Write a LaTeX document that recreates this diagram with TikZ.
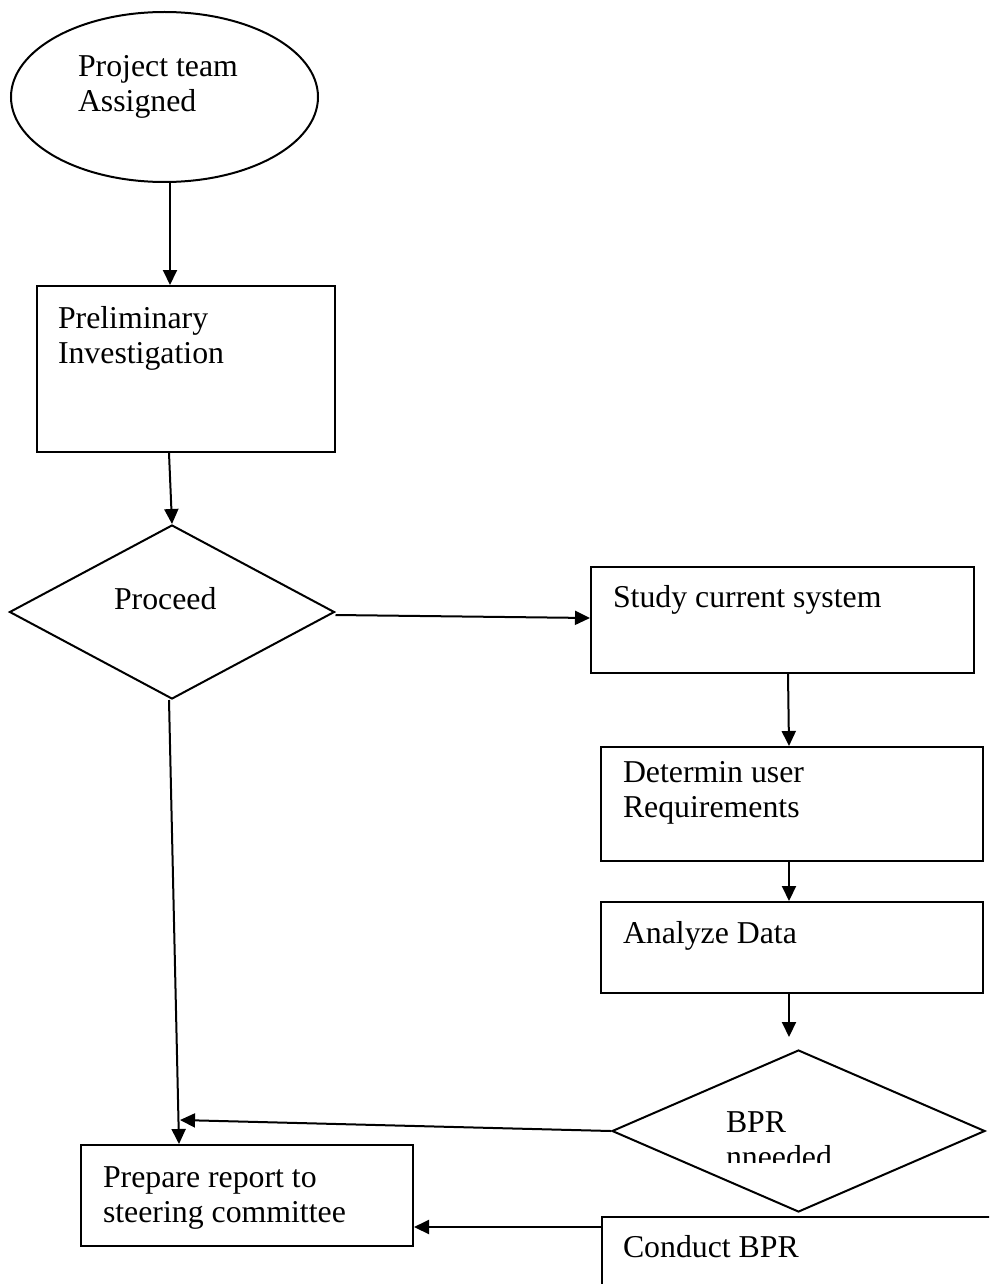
\documentclass[tikz,border=0pt]{standalone}
\usepackage{fontspec}
\setmainfont{Liberation Serif}
\usepackage{tikz}
\usetikzlibrary{shapes.geometric, arrows.meta}

\begin{document}
\begin{tikzpicture}[x=1pt, y=-1pt, line width=2pt,
  box/.style={draw, rectangle, inner sep=0pt},
  oval/.style={draw, ellipse, inner sep=0pt},
  choice/.style={draw, diamond, inner sep=0pt},
  txt/.style={anchor=base west, inner sep=0pt, align=left, font=\fontsize{31.8}{35}\selectfont},
  arr/.style={-{Triangle[length=15pt, width=14pt]}}]
\clip (0,0) rectangle (989,1284);
% shapes
\node [oval, minimum width=307pt, minimum height=170pt] (team) at (164.5,97) {};
\node [box, minimum width=298pt, minimum height=166pt] (prelim) at (186,369) {};
\node [choice, minimum width=325pt, minimum height=174pt] (proceed) at (172,612) {};
\node [box, minimum width=383pt, minimum height=106pt] (study) at (782.5,620) {};
\node [box, minimum width=382pt, minimum height=114pt] (determ) at (792,804) {};
\node [box, minimum width=382pt, minimum height=91pt] (analyze) at (792,947.5) {};
\node [choice, minimum width=373pt, minimum height=162pt] (bpr) at (798.5,1131) {};
\node [box, minimum width=332pt, minimum height=101pt] (prepare) at (247,1195.5) {};
\node [box, minimum width=408pt, minimum height=93pt] (conduct) at (806,1263.5) {};
% texts (base = last line)
\node [txt] (teamtxt) at (77,112) {Project team\\Assigned};
\node [txt] (prelimtxt) at (57,363) {Preliminary\\Investigation};
\node [txt] (proceedtxt) at (113,609) {Proceed};
\node [txt] (studytxt) at (612,607) {Study current system};
\node [txt] (determtxt) at (622,817) {Determin user\\Requirements};
\node [txt] (analyzetxt) at (622,943) {Analyze Data};
\node [txt] (bprtxt) at (725,1132) {BPR};
\begin{scope}
\clip (700,1140) rectangle (900,1162);
\node [txt] (neededtxt) at (725,1167) {nneeded};
\end{scope}
\node [txt] (preparetxt) at (102,1222) {Prepare report to\\steering committee};
\node [txt] (conducttxt) at (622,1257) {Conduct BPR};
% connectors
\coordinate (bprtip) at (789,1037);
\coordinate (joinpt) at (180,1120);
\coordinate (prepin) at ([yshift=-31.5pt]prepare.east);
\draw [arr] ([xshift=5.5pt]team.south) -- ([xshift=-16pt]prelim.north);
\draw [arr] ([xshift=-17pt]prelim.south) -- (proceed.north);
\draw [arr] ([yshift=-3pt]proceed.east) -- ([yshift=2pt]study.west);
\draw [arr] ([xshift=5.5pt]study.south) -- ([xshift=-3pt]determ.north);
\draw [arr] ([xshift=-3pt]determ.south) -- ([xshift=-3pt]analyze.north);
\draw [arr] ([xshift=-3pt]analyze.south) -- (bprtip);
\draw [arr] ([xshift=-3pt]proceed.south) -- ([xshift=-68pt]prepare.north);
\draw [arr] (bpr.west) -- (joinpt);
\draw [arr] (conduct.west |- prepin) -- (prepin);
\end{tikzpicture}
\end{document}
